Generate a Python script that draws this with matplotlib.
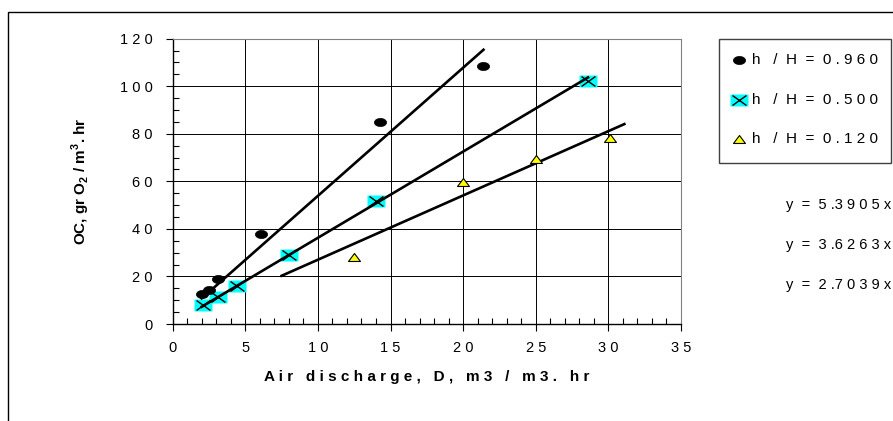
import numpy as np
import matplotlib.pyplot as plt
from matplotlib.path import Path
from matplotlib.patches import Rectangle
from matplotlib.lines import Line2D

plt.rcParams['font.family'] = ['Liberation Sans', 'DejaVu Sans']
plt.rcParams['mathtext.fontset'] = 'custom'
plt.rcParams['mathtext.rm'] = 'Liberation Sans'
plt.rcParams['mathtext.bf'] = 'Liberation Sans:bold'

# h/H = 0.960
x_096 = [2.0, 2.5, 3.1, 6.1, 14.3, 21.4]
y_096 = [12.8, 14.5, 18.8, 37.7, 84.8, 108.4]
# h/H = 0.500
x_050 = [2.1, 3.1, 4.4, 8.0, 14.0, 28.6]
y_050 = [7.8, 11.2, 16.0, 29.0, 51.7, 102.2]
# h/H = 0.120
x_012 = [12.5, 20.0, 25.0, 30.1]
y_012 = [28.0, 59.6, 69.6, 78.2]

# trend lines y = a x
slopes = [5.3905, 3.6263, 2.7039]
trend_x = [[2.0, 21.4], [2.0, 28.6], [7.5, 31.1]]

labels = ['h   /  H  =  0 . 9 6 0', 'h   /  H  =  0 . 5 0 0', 'h   /  H  =  0 . 1 2 0']
eq_texts = ['y  =  5 .3 9 0 5 x', 'y  =  3 .6 2 6 3 x', 'y  =  2 .7 0 3 9 x']

xticks = list(range(0, 36, 5))
yticks = list(range(0, 121, 20))

def spaced(s):
    return ' '.join(str(s))

W, H = 893, 421
fig = plt.figure(figsize=(W/100, H/100), dpi=100)
ax = fig.add_axes([172.7/W, 97/H, 508.3/W, 285.3/H])

# markers (the chart is stretched sideways, so are its markers)
circ = Path.unit_circle()
ell = Path(circ.vertices * np.array([1.5, 1.0]), circ.codes)
rect = Path([(-1.46, -1), (1.46, -1), (1.46, 1), (-1.46, 1), (-1.46, -1)], closed=True)
cross = Path([(-1.4, -1), (1.4, 1), (-1.4, 1), (1.4, -1)],
             [Path.MOVETO, Path.LINETO, Path.MOVETO, Path.LINETO])
tri = Path([(-1.5, -1), (1.5, -1), (0, 1), (-1.5, -1)], closed=True)

st_096 = dict(ls='none', marker=ell, ms=8.8, mfc='black', mec='black', mew=0.5)
st_050s = dict(ls='none', marker=rect, ms=12.6, mfc='#00FFFF', mec='none')
st_050x = dict(ls='none', marker=cross, ms=10, mfc='none', mec='black', mew=1.0)
st_012 = dict(ls='none', marker=tri, ms=8.6, mfc='#FFFF00', mec='black', mew=0.8)

for a, (x0, x1) in zip(slopes, trend_x):
    xs = np.array([x0, x1])
    ax.plot(xs, a * xs, color='black', lw=1.9, zorder=3)

ax.plot(x_096, y_096, zorder=4, **st_096)
ax.plot(x_050, y_050, zorder=2.5, **st_050s)
ax.plot(x_050, y_050, zorder=4, **st_050x)
ax.plot(x_012, y_012, zorder=4, **st_012)

ax.set_xlim(0, 35)
ax.set_ylim(0, 120)
ax.set_xticks(xticks)
ax.set_xticklabels([spaced(v) for v in xticks])
ax.set_yticks(yticks)
ax.set_yticklabels([spaced(v) for v in yticks])
ax.set_xticks(np.arange(0, 36, 1), minor=True)
ax.set_yticks(np.arange(0, 121, 5), minor=True)
ax.tick_params(which='major', direction='out', length=5, width=0.8, labelsize=10.5)
ax.tick_params(axis='x', which='major', pad=7)
ax.tick_params(axis='y', which='major', pad=9.5)
ax.tick_params(which='minor', direction='in', length=4, width=0.8)
ax.grid(which='major', color='black', lw=0.7)
for s in ['top', 'right']:
    ax.spines[s].set_color('#808080')
for s in ['left', 'bottom']:
    ax.spines[s].set_linewidth(1.0)

ax.set_xlabel('A i r   d i s c h a r g e ,   D ,   m 3   /   m 3 .   h r',
              fontweight='bold', fontsize=11, labelpad=11)
ax.set_ylabel(r'OC, gr O$_\mathbf{2}$ / m$^\mathbf{3}$. hr', fontweight='bold',
              fontsize=11, labelpad=20)

# legend box, drawn by hand at its place on the right
fig.add_artist(Rectangle((719/W, 1 - 163/H), 172/W, 124/H, transform=fig.transFigure,
                         fill=False, edgecolor='#404040', lw=1.0))
handles = [[st_096], [st_050s, st_050x], [st_012]]
for i, (hs, lab) in enumerate(zip(handles, labels)):
    yy = 1 - (60 + 39.5*i)/H
    for st in hs:
        fig.add_artist(Line2D([739/W], [yy], transform=fig.transFigure, **st))
    fig.text(752/W, yy, lab, ha='left', va='center', fontsize=11)

for i, t in enumerate(eq_texts):
    fig.text(891/W, 1 - (205 + 40*i)/H, t, ha='right', va='center', fontsize=10.5)

# outer chart border
fig.add_artist(Rectangle((8/W, -0.1), 1.2, 1.1 - 12/H, transform=fig.transFigure,
                         fill=False, edgecolor='black', lw=1.0, clip_on=False))

fig.savefig('out.png', dpi=100)
